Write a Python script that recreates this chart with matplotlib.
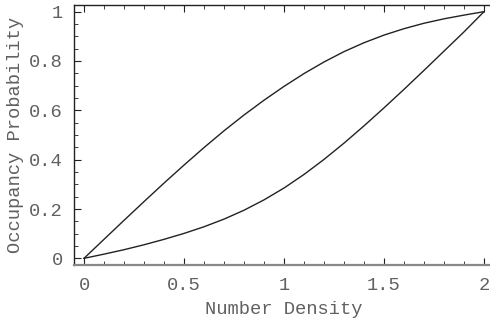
import matplotlib
matplotlib.use("Agg")
import matplotlib.pyplot as plt
from matplotlib.ticker import MultipleLocator, FixedLocator

# Data
density = [0.0, 0.1, 0.2, 0.3, 0.4, 0.5, 0.6, 0.7, 0.8, 0.9, 1.0,
           1.1, 1.2, 1.3, 1.4, 1.5, 1.6, 1.7, 1.8, 1.9, 2.0]
upper_prob = [0.0, 0.077, 0.154, 0.230, 0.305, 0.378, 0.449, 0.517, 0.581, 0.641, 0.697,
              0.749, 0.796, 0.838, 0.874, 0.905, 0.931, 0.953, 0.971, 0.986, 1.0]
lower_prob = [0.0, 0.017, 0.035, 0.055, 0.077, 0.101, 0.128, 0.159, 0.195, 0.237, 0.285,
              0.340, 0.401, 0.467, 0.537, 0.610, 0.685, 0.762, 0.840, 0.918, 1.0]

x_ticks = [0, 0.5, 1, 1.5, 2]
x_tick_labels = ["0", "0.5", "1", "1.5", "2"]
y_ticks = [0, 0.2, 0.4, 0.6, 0.8, 1]
y_tick_labels = ["0", "0.2", "0.4", "0.6", "0.8", "1"]

W, H = 490, 321
fig = plt.figure(figsize=(W / 100, H / 100), dpi=100)
ax = fig.add_axes([74 / W, (H - 265) / H, (494 - 74) / W, (265 - 5) / H])

font = "Liberation Mono"
txt_color = "#606060"
fs = 13.5

ax.plot(density, upper_prob, color="#222222", lw=1.0)
ax.plot(density, lower_prob, color="#222222", lw=1.0)

ax.set_xlim(-0.05, 2.05)
ax.set_ylim(-0.027, 1.027)

ax.xaxis.set_major_locator(FixedLocator(x_ticks))
ax.set_xticklabels(x_tick_labels)
ax.yaxis.set_major_locator(FixedLocator(y_ticks))
ax.set_yticklabels(y_tick_labels)
ax.xaxis.set_minor_locator(MultipleLocator(0.1))
ax.yaxis.set_minor_locator(MultipleLocator(0.05))

ax.tick_params(axis="both", which="major", direction="in", length=5, width=0.8,
               color="#222222", top=True, right=False, labelsize=fs,
               labelcolor=txt_color)
ax.tick_params(axis="both", which="minor", direction="in", length=3, width=0.6,
               color="#222222", top=True, right=False)
ax.tick_params(axis="x", which="major", pad=9)
ax.tick_params(axis="y", which="major", pad=8)

for lab in ax.get_xticklabels() + ax.get_yticklabels():
    lab.set_fontfamily(font)

for side in ["top", "left"]:
    ax.spines[side].set_color("#222222")
    ax.spines[side].set_linewidth(1.0)
ax.spines["right"].set_visible(False)
ax.spines["bottom"].set_color("#888888")
ax.spines["bottom"].set_linewidth(1.6)

ax.set_xlabel("Number Density", fontfamily=font, fontsize=fs, color=txt_color, labelpad=5)
ax.set_ylabel("Occupancy Probability", fontfamily=font, fontsize=fs, color=txt_color, labelpad=4)

fig.savefig("out.png", dpi=100)
